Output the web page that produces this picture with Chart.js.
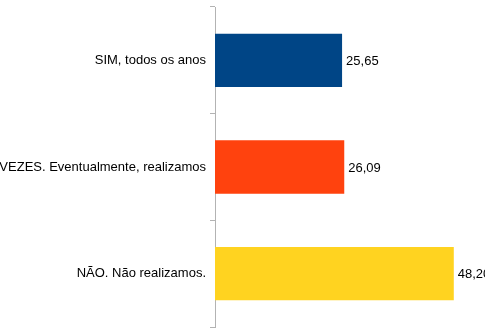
<!DOCTYPE html>
<html>
<head>
<meta charset="utf-8">
<script src="https://cdn.jsdelivr.net/npm/chart.js@4"></script>
<style>
  html, body { margin: 0; padding: 0; background: #fff; }
  #wrap { width: 485px; height: 334px; position: relative; }
</style>
</head>
<body>
<div id="wrap"><canvas id="chart"></canvas></div>
<script>
'use strict';

const categories = ['SIM, todos os anos', 'ÀS VEZES. Eventualmente, realizamos', 'NÃO. Não realizamos.'];
const values = [25.65, 26.09, 48.20];
const barColors = ['#004586', '#ff420e', '#ffd320'];

const canvasElem = document.getElementById('chart');

// value labels to the right of each bar
const valueLabels = {
    id: 'valueLabels',
    afterDatasetsDraw(chart) {
        const ctx = chart.ctx;
        const meta = chart.getDatasetMeta(0);
        ctx.save();
        ctx.font = '13px "Liberation Sans", Arial, sans-serif';
        ctx.fillStyle = '#000';
        ctx.textAlign = 'left';
        ctx.textBaseline = 'middle';
        meta.data.forEach((bar, i) => {
            const txt = values[i].toFixed(2).replace('.', ',');
            ctx.fillText(txt, bar.x + 4, bar.y + 1);
        });
        ctx.restore();
    }
};

function renderChart() {
    const ctx = canvasElem.getContext('2d');
    new Chart(ctx, {
        type: 'bar',
        data: {
            labels: categories,
            datasets: [{
                data: values,
                backgroundColor: barColors,
                borderWidth: 0,
                barPercentage: 0.5,
                categoryPercentage: 1
            }]
        },
        options: {
            indexAxis: 'y',
            responsive: true,
            maintainAspectRatio: false,
            animation: false,
            layout: { padding: { top: 7, bottom: 7, left: 0, right: 0 } },
            scales: {
                x: {
                    display: false,
                    min: 0,
                    max: 54.5
                },
                y: {
                    afterFit(scale) {
                        scale.width = 215;
                        scale.paddingTop = 0;
                        scale.paddingBottom = 0;
                    },
                    border: { display: true, color: '#b3b3b3', width: 1 },
                    grid: {
                        offset: true,
                        drawOnChartArea: false,
                        drawTicks: true,
                        tickLength: 5,
                        color: '#b3b3b3'
                    },
                    ticks: {
                        color: '#000',
                        padding: 4,
                        font: { family: '"Liberation Sans", Arial, sans-serif', size: 13 }
                    }
                }
            },
            plugins: {
                legend: { display: false },
                tooltip: { enabled: false }
            }
        },
        plugins: [valueLabels]
    });
}

renderChart();
</script>
</body>
</html>
